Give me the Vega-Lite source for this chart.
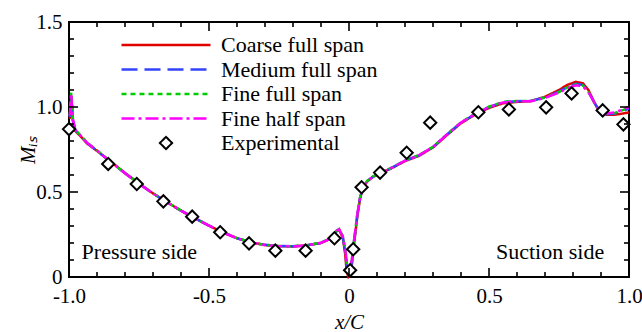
{
  "$schema": "https://vega.github.io/schema/vega-lite/v6.json",
  "width": 560,
  "height": 255,
  "autosize": {"type": "none"},
  "padding": {"left": 69, "top": 22, "right": 13, "bottom": 55},
  "background": "white",
  "config": {
    "view": {"stroke": "black", "strokeWidth": 2},
    "font": "Liberation Serif",
    "axis": {
      "labelFont": "Liberation Serif",
      "titleFont": "Liberation Serif",
      "labelFontSize": 21,
      "titleFontSize": 21,
      "labelColor": "black",
      "titleColor": "black",
      "domain": false,
      "ticks": false,
      "tickSize": 0,
      "grid": false
    },
    "legend": {"labelFont": "Liberation Serif"},
    "text": {"font": "Liberation Serif"}
  },
  "datasets": {
    "cfd": [
      {"s": "Coarse full span", "x": -0.997, "y": 0.93},
      {"s": "Coarse full span", "x": -0.992, "y": 1.06},
      {"s": "Coarse full span", "x": -0.986, "y": 0.92},
      {"s": "Coarse full span", "x": -0.978, "y": 0.86},
      {"s": "Coarse full span", "x": -0.96, "y": 0.83},
      {"s": "Coarse full span", "x": -0.935, "y": 0.785},
      {"s": "Coarse full span", "x": -0.9, "y": 0.742},
      {"s": "Coarse full span", "x": -0.86, "y": 0.69},
      {"s": "Coarse full span", "x": -0.8, "y": 0.612},
      {"s": "Coarse full span", "x": -0.75, "y": 0.55},
      {"s": "Coarse full span", "x": -0.7, "y": 0.492},
      {"s": "Coarse full span", "x": -0.65, "y": 0.44},
      {"s": "Coarse full span", "x": -0.6, "y": 0.39},
      {"s": "Coarse full span", "x": -0.55, "y": 0.345},
      {"s": "Coarse full span", "x": -0.5, "y": 0.302},
      {"s": "Coarse full span", "x": -0.45, "y": 0.262},
      {"s": "Coarse full span", "x": -0.4, "y": 0.228},
      {"s": "Coarse full span", "x": -0.35, "y": 0.203},
      {"s": "Coarse full span", "x": -0.3, "y": 0.188},
      {"s": "Coarse full span", "x": -0.25, "y": 0.181},
      {"s": "Coarse full span", "x": -0.2, "y": 0.18},
      {"s": "Coarse full span", "x": -0.15, "y": 0.186},
      {"s": "Coarse full span", "x": -0.1, "y": 0.2},
      {"s": "Coarse full span", "x": -0.07, "y": 0.222},
      {"s": "Coarse full span", "x": -0.045, "y": 0.268},
      {"s": "Coarse full span", "x": -0.035, "y": 0.278},
      {"s": "Coarse full span", "x": -0.022, "y": 0.23},
      {"s": "Coarse full span", "x": -0.014, "y": 0.14},
      {"s": "Coarse full span", "x": -0.008, "y": 0.03},
      {"s": "Coarse full span", "x": -0.002, "y": 0.0},
      {"s": "Coarse full span", "x": 0.004, "y": 0.01},
      {"s": "Coarse full span", "x": 0.01, "y": 0.07},
      {"s": "Coarse full span", "x": 0.016, "y": 0.17},
      {"s": "Coarse full span", "x": 0.022, "y": 0.25},
      {"s": "Coarse full span", "x": 0.03, "y": 0.36},
      {"s": "Coarse full span", "x": 0.04, "y": 0.465},
      {"s": "Coarse full span", "x": 0.05, "y": 0.525},
      {"s": "Coarse full span", "x": 0.065, "y": 0.562},
      {"s": "Coarse full span", "x": 0.085, "y": 0.588},
      {"s": "Coarse full span", "x": 0.11, "y": 0.608},
      {"s": "Coarse full span", "x": 0.15, "y": 0.638},
      {"s": "Coarse full span", "x": 0.2, "y": 0.682},
      {"s": "Coarse full span", "x": 0.25, "y": 0.713},
      {"s": "Coarse full span", "x": 0.3, "y": 0.762},
      {"s": "Coarse full span", "x": 0.35, "y": 0.835},
      {"s": "Coarse full span", "x": 0.4, "y": 0.905},
      {"s": "Coarse full span", "x": 0.45, "y": 0.955},
      {"s": "Coarse full span", "x": 0.5, "y": 0.995},
      {"s": "Coarse full span", "x": 0.55, "y": 1.022},
      {"s": "Coarse full span", "x": 0.6, "y": 1.03},
      {"s": "Coarse full span", "x": 0.65, "y": 1.035},
      {"s": "Coarse full span", "x": 0.7, "y": 1.06},
      {"s": "Coarse full span", "x": 0.75, "y": 1.1},
      {"s": "Coarse full span", "x": 0.78, "y": 1.13},
      {"s": "Coarse full span", "x": 0.81, "y": 1.148},
      {"s": "Coarse full span", "x": 0.835, "y": 1.14},
      {"s": "Coarse full span", "x": 0.855, "y": 1.1},
      {"s": "Coarse full span", "x": 0.875, "y": 1.03},
      {"s": "Coarse full span", "x": 0.895, "y": 0.972},
      {"s": "Coarse full span", "x": 0.92, "y": 0.955},
      {"s": "Coarse full span", "x": 0.95, "y": 0.955},
      {"s": "Coarse full span", "x": 0.98, "y": 0.962},
      {"s": "Coarse full span", "x": 1.0, "y": 0.968},

      {"s": "Medium full span", "x": -0.997, "y": 0.94},
      {"s": "Medium full span", "x": -0.992, "y": 1.07},
      {"s": "Medium full span", "x": -0.986, "y": 0.92},
      {"s": "Medium full span", "x": -0.978, "y": 0.865},
      {"s": "Medium full span", "x": -0.96, "y": 0.833},
      {"s": "Medium full span", "x": -0.935, "y": 0.788},
      {"s": "Medium full span", "x": -0.9, "y": 0.742},
      {"s": "Medium full span", "x": -0.86, "y": 0.688},
      {"s": "Medium full span", "x": -0.8, "y": 0.61},
      {"s": "Medium full span", "x": -0.75, "y": 0.549},
      {"s": "Medium full span", "x": -0.7, "y": 0.491},
      {"s": "Medium full span", "x": -0.65, "y": 0.44},
      {"s": "Medium full span", "x": -0.6, "y": 0.39},
      {"s": "Medium full span", "x": -0.55, "y": 0.345},
      {"s": "Medium full span", "x": -0.5, "y": 0.302},
      {"s": "Medium full span", "x": -0.45, "y": 0.262},
      {"s": "Medium full span", "x": -0.4, "y": 0.228},
      {"s": "Medium full span", "x": -0.35, "y": 0.204},
      {"s": "Medium full span", "x": -0.3, "y": 0.189},
      {"s": "Medium full span", "x": -0.25, "y": 0.182},
      {"s": "Medium full span", "x": -0.2, "y": 0.181},
      {"s": "Medium full span", "x": -0.15, "y": 0.187},
      {"s": "Medium full span", "x": -0.1, "y": 0.201},
      {"s": "Medium full span", "x": -0.07, "y": 0.223},
      {"s": "Medium full span", "x": -0.045, "y": 0.27},
      {"s": "Medium full span", "x": -0.035, "y": 0.28},
      {"s": "Medium full span", "x": -0.022, "y": 0.235},
      {"s": "Medium full span", "x": -0.014, "y": 0.15},
      {"s": "Medium full span", "x": -0.007, "y": 0.05},
      {"s": "Medium full span", "x": -0.001, "y": 0.01},
      {"s": "Medium full span", "x": 0.004, "y": 0.02},
      {"s": "Medium full span", "x": 0.01, "y": 0.08},
      {"s": "Medium full span", "x": 0.016, "y": 0.18},
      {"s": "Medium full span", "x": 0.022, "y": 0.26},
      {"s": "Medium full span", "x": 0.03, "y": 0.37},
      {"s": "Medium full span", "x": 0.04, "y": 0.47},
      {"s": "Medium full span", "x": 0.05, "y": 0.528},
      {"s": "Medium full span", "x": 0.065, "y": 0.564},
      {"s": "Medium full span", "x": 0.085, "y": 0.59},
      {"s": "Medium full span", "x": 0.11, "y": 0.61},
      {"s": "Medium full span", "x": 0.15, "y": 0.64},
      {"s": "Medium full span", "x": 0.2, "y": 0.684},
      {"s": "Medium full span", "x": 0.25, "y": 0.716},
      {"s": "Medium full span", "x": 0.3, "y": 0.765},
      {"s": "Medium full span", "x": 0.35, "y": 0.838},
      {"s": "Medium full span", "x": 0.4, "y": 0.908},
      {"s": "Medium full span", "x": 0.45, "y": 0.958},
      {"s": "Medium full span", "x": 0.5, "y": 1.0},
      {"s": "Medium full span", "x": 0.55, "y": 1.028},
      {"s": "Medium full span", "x": 0.6, "y": 1.034},
      {"s": "Medium full span", "x": 0.65, "y": 1.036},
      {"s": "Medium full span", "x": 0.7, "y": 1.057},
      {"s": "Medium full span", "x": 0.75, "y": 1.09},
      {"s": "Medium full span", "x": 0.78, "y": 1.118},
      {"s": "Medium full span", "x": 0.81, "y": 1.137},
      {"s": "Medium full span", "x": 0.835, "y": 1.13},
      {"s": "Medium full span", "x": 0.855, "y": 1.093},
      {"s": "Medium full span", "x": 0.875, "y": 1.03},
      {"s": "Medium full span", "x": 0.895, "y": 0.974},
      {"s": "Medium full span", "x": 0.92, "y": 0.958},
      {"s": "Medium full span", "x": 0.95, "y": 0.962},
      {"s": "Medium full span", "x": 0.98, "y": 0.978},
      {"s": "Medium full span", "x": 1.0, "y": 0.99},

      {"s": "Fine full span", "x": -0.997, "y": 0.95},
      {"s": "Fine full span", "x": -0.992, "y": 1.085},
      {"s": "Fine full span", "x": -0.986, "y": 0.93},
      {"s": "Fine full span", "x": -0.978, "y": 0.868},
      {"s": "Fine full span", "x": -0.96, "y": 0.835},
      {"s": "Fine full span", "x": -0.935, "y": 0.79},
      {"s": "Fine full span", "x": -0.9, "y": 0.745},
      {"s": "Fine full span", "x": -0.86, "y": 0.69},
      {"s": "Fine full span", "x": -0.8, "y": 0.611},
      {"s": "Fine full span", "x": -0.75, "y": 0.55},
      {"s": "Fine full span", "x": -0.7, "y": 0.492},
      {"s": "Fine full span", "x": -0.65, "y": 0.441},
      {"s": "Fine full span", "x": -0.6, "y": 0.391},
      {"s": "Fine full span", "x": -0.55, "y": 0.346},
      {"s": "Fine full span", "x": -0.5, "y": 0.303},
      {"s": "Fine full span", "x": -0.45, "y": 0.263},
      {"s": "Fine full span", "x": -0.4, "y": 0.229},
      {"s": "Fine full span", "x": -0.35, "y": 0.204},
      {"s": "Fine full span", "x": -0.3, "y": 0.189},
      {"s": "Fine full span", "x": -0.25, "y": 0.182},
      {"s": "Fine full span", "x": -0.2, "y": 0.181},
      {"s": "Fine full span", "x": -0.15, "y": 0.187},
      {"s": "Fine full span", "x": -0.1, "y": 0.202},
      {"s": "Fine full span", "x": -0.07, "y": 0.224},
      {"s": "Fine full span", "x": -0.045, "y": 0.272},
      {"s": "Fine full span", "x": -0.035, "y": 0.282},
      {"s": "Fine full span", "x": -0.022, "y": 0.24},
      {"s": "Fine full span", "x": -0.013, "y": 0.16},
      {"s": "Fine full span", "x": -0.006, "y": 0.06},
      {"s": "Fine full span", "x": -0.001, "y": 0.02},
      {"s": "Fine full span", "x": 0.004, "y": 0.03},
      {"s": "Fine full span", "x": 0.01, "y": 0.09},
      {"s": "Fine full span", "x": 0.016, "y": 0.19},
      {"s": "Fine full span", "x": 0.022, "y": 0.265},
      {"s": "Fine full span", "x": 0.03, "y": 0.375},
      {"s": "Fine full span", "x": 0.04, "y": 0.472},
      {"s": "Fine full span", "x": 0.05, "y": 0.53},
      {"s": "Fine full span", "x": 0.065, "y": 0.565},
      {"s": "Fine full span", "x": 0.085, "y": 0.591},
      {"s": "Fine full span", "x": 0.11, "y": 0.611},
      {"s": "Fine full span", "x": 0.15, "y": 0.641},
      {"s": "Fine full span", "x": 0.2, "y": 0.685},
      {"s": "Fine full span", "x": 0.25, "y": 0.717},
      {"s": "Fine full span", "x": 0.3, "y": 0.766},
      {"s": "Fine full span", "x": 0.35, "y": 0.84},
      {"s": "Fine full span", "x": 0.4, "y": 0.91},
      {"s": "Fine full span", "x": 0.45, "y": 0.96},
      {"s": "Fine full span", "x": 0.5, "y": 1.002},
      {"s": "Fine full span", "x": 0.55, "y": 1.03},
      {"s": "Fine full span", "x": 0.6, "y": 1.035},
      {"s": "Fine full span", "x": 0.65, "y": 1.036},
      {"s": "Fine full span", "x": 0.7, "y": 1.056},
      {"s": "Fine full span", "x": 0.75, "y": 1.088},
      {"s": "Fine full span", "x": 0.78, "y": 1.115},
      {"s": "Fine full span", "x": 0.81, "y": 1.133},
      {"s": "Fine full span", "x": 0.835, "y": 1.127},
      {"s": "Fine full span", "x": 0.855, "y": 1.09},
      {"s": "Fine full span", "x": 0.875, "y": 1.03},
      {"s": "Fine full span", "x": 0.895, "y": 0.975},
      {"s": "Fine full span", "x": 0.92, "y": 0.96},
      {"s": "Fine full span", "x": 0.95, "y": 0.965},
      {"s": "Fine full span", "x": 0.98, "y": 0.983},
      {"s": "Fine full span", "x": 1.0, "y": 0.997},

      {"s": "Fine half span", "x": -0.997, "y": 0.95},
      {"s": "Fine half span", "x": -0.992, "y": 1.08},
      {"s": "Fine half span", "x": -0.986, "y": 0.925},
      {"s": "Fine half span", "x": -0.978, "y": 0.866},
      {"s": "Fine half span", "x": -0.96, "y": 0.834},
      {"s": "Fine half span", "x": -0.935, "y": 0.789},
      {"s": "Fine half span", "x": -0.9, "y": 0.744},
      {"s": "Fine half span", "x": -0.86, "y": 0.689},
      {"s": "Fine half span", "x": -0.8, "y": 0.61},
      {"s": "Fine half span", "x": -0.75, "y": 0.549},
      {"s": "Fine half span", "x": -0.7, "y": 0.491},
      {"s": "Fine half span", "x": -0.65, "y": 0.44},
      {"s": "Fine half span", "x": -0.6, "y": 0.39},
      {"s": "Fine half span", "x": -0.55, "y": 0.345},
      {"s": "Fine half span", "x": -0.5, "y": 0.302},
      {"s": "Fine half span", "x": -0.45, "y": 0.262},
      {"s": "Fine half span", "x": -0.4, "y": 0.228},
      {"s": "Fine half span", "x": -0.35, "y": 0.203},
      {"s": "Fine half span", "x": -0.3, "y": 0.188},
      {"s": "Fine half span", "x": -0.25, "y": 0.181},
      {"s": "Fine half span", "x": -0.2, "y": 0.18},
      {"s": "Fine half span", "x": -0.15, "y": 0.186},
      {"s": "Fine half span", "x": -0.1, "y": 0.201},
      {"s": "Fine half span", "x": -0.07, "y": 0.223},
      {"s": "Fine half span", "x": -0.045, "y": 0.271},
      {"s": "Fine half span", "x": -0.035, "y": 0.281},
      {"s": "Fine half span", "x": -0.022, "y": 0.238},
      {"s": "Fine half span", "x": -0.013, "y": 0.155},
      {"s": "Fine half span", "x": -0.006, "y": 0.07},
      {"s": "Fine half span", "x": -0.001, "y": 0.05},
      {"s": "Fine half span", "x": 0.004, "y": 0.06},
      {"s": "Fine half span", "x": 0.01, "y": 0.1},
      {"s": "Fine half span", "x": 0.016, "y": 0.19},
      {"s": "Fine half span", "x": 0.022, "y": 0.265},
      {"s": "Fine half span", "x": 0.03, "y": 0.372},
      {"s": "Fine half span", "x": 0.04, "y": 0.47},
      {"s": "Fine half span", "x": 0.05, "y": 0.528},
      {"s": "Fine half span", "x": 0.065, "y": 0.564},
      {"s": "Fine half span", "x": 0.085, "y": 0.59},
      {"s": "Fine half span", "x": 0.11, "y": 0.61},
      {"s": "Fine half span", "x": 0.15, "y": 0.64},
      {"s": "Fine half span", "x": 0.2, "y": 0.684},
      {"s": "Fine half span", "x": 0.25, "y": 0.716},
      {"s": "Fine half span", "x": 0.3, "y": 0.765},
      {"s": "Fine half span", "x": 0.35, "y": 0.838},
      {"s": "Fine half span", "x": 0.4, "y": 0.908},
      {"s": "Fine half span", "x": 0.45, "y": 0.958},
      {"s": "Fine half span", "x": 0.5, "y": 1.0},
      {"s": "Fine half span", "x": 0.55, "y": 1.027},
      {"s": "Fine half span", "x": 0.6, "y": 1.033},
      {"s": "Fine half span", "x": 0.65, "y": 1.034},
      {"s": "Fine half span", "x": 0.7, "y": 1.053},
      {"s": "Fine half span", "x": 0.75, "y": 1.085},
      {"s": "Fine half span", "x": 0.78, "y": 1.11},
      {"s": "Fine half span", "x": 0.81, "y": 1.128},
      {"s": "Fine half span", "x": 0.835, "y": 1.122},
      {"s": "Fine half span", "x": 0.855, "y": 1.088},
      {"s": "Fine half span", "x": 0.875, "y": 1.03},
      {"s": "Fine half span", "x": 0.895, "y": 0.976},
      {"s": "Fine half span", "x": 0.92, "y": 0.962},
      {"s": "Fine half span", "x": 0.95, "y": 0.968},
      {"s": "Fine half span", "x": 0.98, "y": 0.987},
      {"s": "Fine half span", "x": 1.0, "y": 1.0}
    ],
    "exp": [
      {"s": "Experimental", "x": -1.0, "y": 0.87},
      {"s": "Experimental", "x": -0.86, "y": 0.665},
      {"s": "Experimental", "x": -0.758, "y": 0.547},
      {"s": "Experimental", "x": -0.663, "y": 0.445},
      {"s": "Experimental", "x": -0.56, "y": 0.355},
      {"s": "Experimental", "x": -0.46, "y": 0.263},
      {"s": "Experimental", "x": -0.357, "y": 0.198},
      {"s": "Experimental", "x": -0.263, "y": 0.155},
      {"s": "Experimental", "x": -0.155, "y": 0.155},
      {"s": "Experimental", "x": -0.052, "y": 0.228},
      {"s": "Experimental", "x": 0.004, "y": 0.04},
      {"s": "Experimental", "x": 0.015, "y": 0.163},
      {"s": "Experimental", "x": 0.045, "y": 0.528},
      {"s": "Experimental", "x": 0.111, "y": 0.614},
      {"s": "Experimental", "x": 0.206, "y": 0.731},
      {"s": "Experimental", "x": 0.29, "y": 0.908},
      {"s": "Experimental", "x": 0.462, "y": 0.969},
      {"s": "Experimental", "x": 0.571, "y": 0.986},
      {"s": "Experimental", "x": 0.704, "y": 0.998},
      {"s": "Experimental", "x": 0.795, "y": 1.08},
      {"s": "Experimental", "x": 0.906, "y": 0.98},
      {"s": "Experimental", "x": 0.98, "y": 0.898}
    ],
    "notes": [
      {"label": "Pressure side", "x": -0.955, "y": 0.145},
      {"label": "Suction side", "x": 0.525, "y": 0.145}
    ],
    "xt": [
      {"v": -1.0, "k": "major"}, {"v": -0.9, "k": "minor"}, {"v": -0.8, "k": "minor"}, {"v": -0.7, "k": "minor"},
      {"v": -0.6, "k": "minor"}, {"v": -0.5, "k": "major"}, {"v": -0.4, "k": "minor"}, {"v": -0.3, "k": "minor"},
      {"v": -0.2, "k": "minor"}, {"v": -0.1, "k": "minor"}, {"v": 0.0, "k": "major"}, {"v": 0.1, "k": "minor"},
      {"v": 0.2, "k": "minor"}, {"v": 0.3, "k": "minor"}, {"v": 0.4, "k": "minor"}, {"v": 0.5, "k": "major"},
      {"v": 0.6, "k": "minor"}, {"v": 0.7, "k": "minor"}, {"v": 0.8, "k": "minor"}, {"v": 0.9, "k": "minor"},
      {"v": 1.0, "k": "major"}
    ],
    "yt": [
      {"v": 0.0, "k": "major"}, {"v": 0.1, "k": "minor"}, {"v": 0.2, "k": "minor"}, {"v": 0.3, "k": "minor"},
      {"v": 0.4, "k": "minor"}, {"v": 0.5, "k": "major"}, {"v": 0.6, "k": "minor"}, {"v": 0.7, "k": "minor"},
      {"v": 0.8, "k": "minor"}, {"v": 0.9, "k": "minor"}, {"v": 1.0, "k": "major"}, {"v": 1.1, "k": "minor"},
      {"v": 1.2, "k": "minor"}, {"v": 1.3, "k": "minor"}, {"v": 1.4, "k": "minor"}, {"v": 1.5, "k": "major"}
    ]
  },
  "layer": [
    {
      "data": {"name": "cfd"},
      "mark": {"type": "line", "strokeWidth": 2.5},
      "encoding": {
        "x": {
          "field": "x", "type": "quantitative",
          "scale": {"domain": [-1, 1], "nice": false, "zero": false},
          "axis": {
            "orient": "bottom",
            "title": "x/C",
            "titleFontSize": 21,
            "titleFontStyle": "italic",
            "titleFontWeight": "normal",
            "titlePadding": 5,
            "labelFontSize": 21,
            "values": [-1, -0.5, 0, 0.5, 1],
            "labelExpr": "datum.value < -0.99 ? '-1.0' : (abs(datum.value + 0.5) < 0.001 ? '-0.5' : (abs(datum.value) < 0.001 ? '0' : (abs(datum.value - 0.5) < 0.001 ? '0.5' : '1.0')))",
            "ticks": false,
            "tickSize": 0,
            "labelPadding": 8,
            "labelFlush": false
          }
        },
        "y": {
          "field": "y", "type": "quantitative",
          "scale": {"domain": [0, 1.5], "nice": false, "zero": false},
          "axis": {
            "orient": "left",
            "title": "Mᵢₛ",
            "titleFontSize": 21,
            "titleFontStyle": "italic",
            "titleFontWeight": "normal",
            "titlePadding": -3,
            "labelFontSize": 21,
            "values": [0, 0.5, 1, 1.5],
            "labelExpr": "abs(datum.value) < 0.001 ? '0' : (abs(datum.value - 0.5) < 0.001 ? '0.5' : (abs(datum.value - 1) < 0.001 ? '1.0' : '1.5'))",
            "ticks": false,
            "tickSize": 0,
            "labelPadding": 7,
            "labelFlush": false
          }
        },
        "color": {
          "field": "s", "type": "nominal",
          "scale": {
            "domain": ["Coarse full span", "Medium full span", "Fine full span", "Fine half span", "Experimental"],
            "range": ["#e00000", "#3344ff", "#00cc00", "#ff00ff", "#000000"]
          },
          "legend": {
            "orient": "none",
            "legendX": 86,
            "legendY": 12,
            "title": null,
            "labelFontSize": 22,
            "labelColor": "black",
            "labelOffset": 44,
            "labelLimit": 300,
            "symbolSize": 7921,
            "symbolType": "stroke",
            "symbolStrokeWidth": 2.5,
            "rowPadding": 2.5,
            "encode": {
              "symbols": {
                "update": {
                  "shape": {"signal": "datum.value === 'Experimental' ? 'diamond' : 'stroke'"},
                  "size": {"signal": "datum.value === 'Experimental' ? 150 : 7921"},
                  "strokeWidth": {"signal": "datum.value === 'Experimental' ? 2 : 2.5"}
                }
              }
            }
          }
        },
        "strokeDash": {
          "field": "s", "type": "nominal",
          "scale": {
            "domain": ["Coarse full span", "Medium full span", "Fine full span", "Fine half span", "Experimental"],
            "range": [[1, 0], [16, 7], [5, 4], [13, 4, 3, 4], [1, 0]]
          },
          "legend": null
        }
      }
    },
    {
      "data": {"name": "exp"},
      "mark": {"type": "point", "shape": "diamond", "filled": false, "size": 150, "strokeWidth": 2, "fill": "white", "fillOpacity": 1},
      "encoding": {
        "x": {"field": "x", "type": "quantitative"},
        "y": {"field": "y", "type": "quantitative"},
        "color": {"field": "s", "type": "nominal"}
      }
    },
    {
      "data": {"name": "notes"},
      "mark": {"type": "text", "fontSize": 22, "baseline": "middle", "align": "left", "color": "black"},
      "encoding": {
        "x": {"field": "x", "type": "quantitative"},
        "y": {"field": "y", "type": "quantitative"},
        "text": {"field": "label"}
      }
    },
    {
      "data": {"name": "xt"},
      "mark": {"type": "tick", "orient": "vertical", "clip": true, "color": "black", "thickness": 1.6, "opacity": 1},
      "encoding": {
        "x": {"field": "v", "type": "quantitative"},
        "y": {"datum": 0, "type": "quantitative"},
        "size": {"field": "k", "type": "ordinal", "scale": {"domain": ["major", "minor"], "range": [18, 10]}, "legend": null}
      }
    },
    {
      "data": {"name": "xt"},
      "mark": {"type": "tick", "orient": "vertical", "clip": true, "color": "black", "thickness": 1.6, "opacity": 1},
      "encoding": {
        "x": {"field": "v", "type": "quantitative"},
        "y": {"datum": 1.5, "type": "quantitative"},
        "size": {"field": "k", "type": "ordinal", "legend": null}
      }
    },
    {
      "data": {"name": "yt"},
      "mark": {"type": "tick", "orient": "horizontal", "clip": true, "color": "black", "thickness": 1.6, "opacity": 1},
      "encoding": {
        "y": {"field": "v", "type": "quantitative"},
        "x": {"datum": -1, "type": "quantitative"},
        "size": {"field": "k", "type": "ordinal", "legend": null}
      }
    },
    {
      "data": {"name": "yt"},
      "mark": {"type": "tick", "orient": "horizontal", "clip": true, "color": "black", "thickness": 1.6, "opacity": 1},
      "encoding": {
        "y": {"field": "v", "type": "quantitative"},
        "x": {"datum": 1, "type": "quantitative"},
        "size": {"field": "k", "type": "ordinal", "legend": null}
      }
    }
  ]
}
